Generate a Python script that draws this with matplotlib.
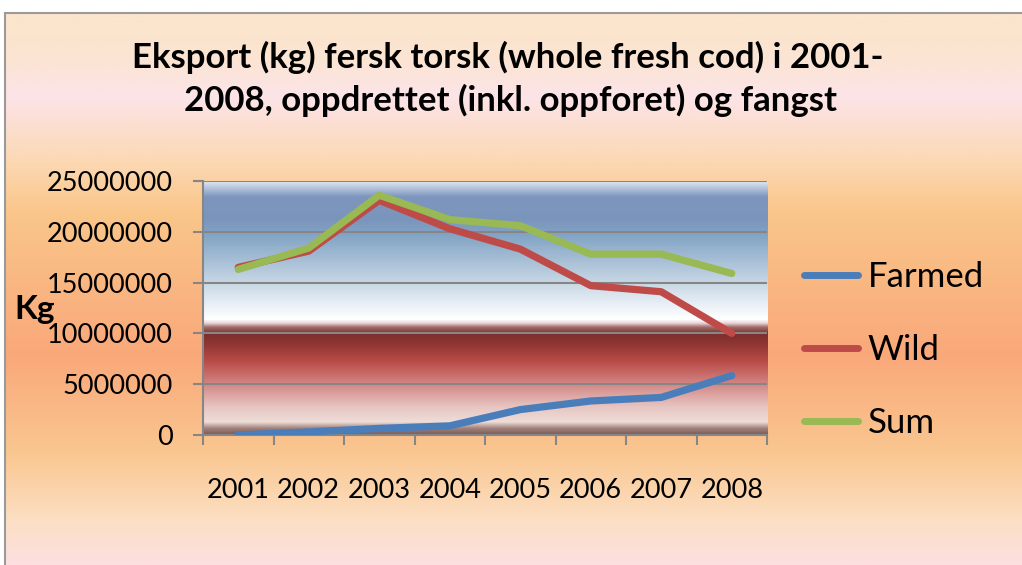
import numpy as np
import matplotlib
matplotlib.use("Agg")
import matplotlib.pyplot as plt
from matplotlib.colors import LinearSegmentedColormap
from matplotlib.patches import Rectangle

# data
years = ['2001', '2002', '2003', '2004', '2005', '2006', '2007', '2008']
farmed = [0, 300000, 650000, 900000, 2500000, 3350000, 3700000, 5850000]
wild = [16500000, 18100000, 23100000, 20300000, 18300000, 14700000, 14100000, 10000000]
total = [16300000, 18400000, 23600000, 21200000, 20600000, 17800000, 17800000, 15900000]

plt.rcParams['font.family'] = ['Lato', 'DejaVu Sans']

fig = plt.figure(figsize=(10.22, 5.65), dpi=100)
W, H = 1022, 565

# figure background gradient (top -> bottom)
bg_stops = [(0.0, '#FBE6CB'), (0.08, '#FBE4D2'), (0.15, '#FCE4E8'),
            (0.27, '#FCD8B2'), (0.36, '#FAC68A'), (0.62, '#F9A87A'),
            (0.80, '#FAC790'), (0.92, '#FCDFC4'), (1.0, '#FDE0E0')]
bg_cmap = LinearSegmentedColormap.from_list('bg', bg_stops)
bg = fig.add_axes([5 / W, 0, 1 - 5 / W, (H - 13) / H], zorder=-10)
bg.imshow(np.linspace(0, 1, 256).reshape(-1, 1), cmap=bg_cmap, aspect='auto',
          extent=[0, 1, 0, 1], origin='upper')
bg.set_xlim(0, 1)
bg.set_ylim(0, 1)
bg.axis('off')
fig.patches.append(Rectangle((5 / W, -0.01), 1.0, (H - 13) / H + 0.01,
                             transform=fig.transFigure, fill=False,
                             edgecolor='#9A9A9A', linewidth=1.5, zorder=-5))

# plot area
x0, x1, y0, y1 = 203, 767, 181, 435
ax = fig.add_axes([x0 / W, 1 - y1 / H, (x1 - x0) / W, (y1 - y0) / H])

pa_stops = [(0.0, '#DDE7F1'), (0.06, '#7E96BE'), (0.15, '#7A95BC'),
            (0.22, '#85A6C6'), (0.40, '#C8D7E5'), (0.52, '#F6F9FC'),
            (0.545, '#FFFFFF'), (0.56, '#E9D3D3'), (0.575, '#A2706D'),
            (0.60, '#7C2F2C'), (0.64, '#8E3532'), (0.71, '#B94B48'),
            (0.79, '#D07F7D'), (0.89, '#E7C5C1'), (0.95, '#EEDDD8'),
            (0.975, '#A3827C'), (1.0, '#7A5A58')]
pa_cmap = LinearSegmentedColormap.from_list('pa', pa_stops)
ax.imshow(np.linspace(0, 1, 512).reshape(-1, 1), cmap=pa_cmap, aspect='auto',
          extent=[0, 1, 0, 1], origin='upper', transform=ax.transAxes, zorder=0)

xs = np.arange(len(years))
ax.plot(xs, farmed, color='#4A7EBB', lw=5.2, solid_capstyle='round', solid_joinstyle='round', zorder=3, label='Farmed')
ax.plot(xs, wild, color='#BE4B48', lw=5.2, solid_capstyle='round', solid_joinstyle='round', zorder=3, label='Wild')
ax.plot(xs, total, color='#98B954', lw=5.2, solid_capstyle='round', solid_joinstyle='round', zorder=3, label='Sum')

ax.set_xlim(-0.5, len(years) - 0.5)
ax.set_ylim(0, 25000000)
ax.set_yticks(range(0, 25000001, 5000000))
ax.set_yticklabels([str(v) for v in range(0, 25000001, 5000000)], fontsize=19.5)
ax.set_xticks(np.arange(-0.5, len(years), 1.0))
ax.set_xticklabels([])
ax.set_xticks(xs, minor=True)
ax.set_xticklabels(years, minor=True, fontsize=19.5)
ax.tick_params(axis='x', which='minor', length=0, pad=31)
ax.tick_params(axis='x', which='major', length=7, width=1.5, color='#868686', direction='out')
ax.tick_params(axis='y', length=7, width=1.5, color='#868686', direction='out', pad=15)
ax.grid(axis='y', color='#868686', lw=1.5, zorder=1)
ax.set_axisbelow(False)
for s in ['top', 'right']:
    ax.spines[s].set_visible(False)
for s in ['left', 'bottom']:
    ax.spines[s].set_color('#868686')
    ax.spines[s].set_linewidth(1.5)

fig.text(35 / W, 1 - 310 / H, 'Kg', fontsize=24, fontweight='bold', ha='center', va='center')
fig.text(508 / W, 1 - 57 / H, 'Eksport (kg) fersk torsk (whole fresh cod) i 2001-',
         fontsize=25, fontweight='bold', ha='center', va='center')
fig.text(510 / W, 1 - 100 / H, '2008, oppdrettet (inkl. oppforet) og fangst',
         fontsize=25, fontweight='bold', ha='center', va='center')

leg = ax.legend(loc='center left', bbox_to_anchor=(804 / W, 1 - 350 / H),
                bbox_transform=fig.transFigure, frameon=False, fontsize=25,
                borderpad=0, borderaxespad=0,
                handlelength=1.56, handletextpad=0.27, labelspacing=1.18)
for ln in leg.get_lines():
    ln.set_linewidth(5)

fig.savefig('out.png', dpi=100)
